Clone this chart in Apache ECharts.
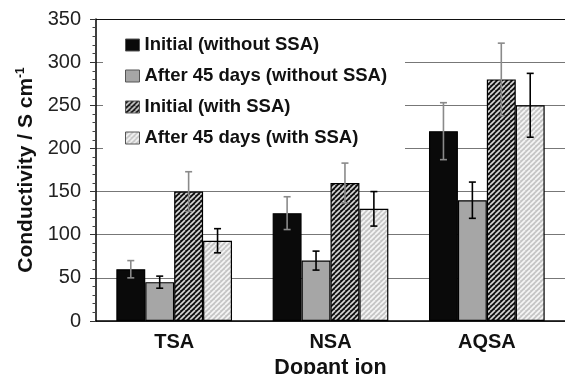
<!DOCTYPE html>
<html>
<head>
<meta charset="utf-8">
<script src="https://cdn.jsdelivr.net/npm/echarts@6/dist/echarts.min.js"></script>
<style>
html, body { margin: 0; padding: 0; background: #fff; }
#chart { width: 565px; height: 374px; }
</style>
</head>
<body>
<div id="chart"></div>
<script>
// Dopant ions on the x axis
const categories = ['TSA', 'NSA', 'AQSA'];
const seriesNames = [
  'Initial (without SSA)',
  'After 45 days (without SSA)',
  'Initial (with SSA)',
  'After 45 days (with SSA)'
];
// Conductivity (S cm^-1) per dopant
const initialNoSSA = [60, 125, 220];
const after45NoSSA = [45, 70, 140];
const initialSSA = [150, 160, 280];
const after45SSA = [93, 130, 250];
// Error bar half-widths
const errInitialNoSSA = [10, 19, 33];
const errAfter45NoSSA = [7, 11, 21];
const errInitialSSA = [23, 23, 42];
const errAfter45SSA = [14, 20, 37];
// Y axis ticks
const yMin = 0, yMax = 350, yStep = 50;

const FONT = '"Liberation Sans", Arial, sans-serif';

// Diagonal hatch fill
function hatch(bg, fg, lw) {
  const s = 5;
  const c = document.createElement('canvas');
  c.width = s; c.height = s;
  const ctx = c.getContext('2d');
  ctx.fillStyle = bg;
  ctx.fillRect(0, 0, s, s);
  ctx.strokeStyle = fg;
  ctx.lineWidth = lw;
  for (let k = -s; k <= s; k += s) {
    ctx.beginPath();
    ctx.moveTo(k, s);
    ctx.lineTo(k + s, 0);
    ctx.stroke();
  }
  return { image: c, repeat: 'repeat' };
}

const fills = [
  '#0a0a0a',
  '#a6a6a6',
  hatch('#111', '#d8d8d8', 1.6),
  hatch('#c6c6c6', '#f6f6f6', 1.6)
];
const values = [initialNoSSA, after45NoSSA, initialSSA, after45SSA];
const errors = [errInitialNoSSA, errAfter45NoSSA, errInitialSSA, errAfter45SSA];
const errColors = ['#8a8a8a', '#000', '#8a8a8a', '#000'];

const CAT_GAP = 0.26;

const barSeries = values.map((vals, i) => ({
  name: seriesNames[i],
  type: 'bar',
  data: vals,
  barGap: '0%',
  barCategoryGap: (CAT_GAP * 100) + '%',
  itemStyle: { color: fills[i], borderColor: '#000', borderWidth: 1.2 },
  z: 2
}));

const errSeries = values.map((vals, i) => ({
  name: 'err' + i,
  type: 'custom',
  z: 5,
  data: vals.map((v, j) => [j, v - errors[i][j], v + errors[i][j]]),
  renderItem: function (params, api) {
    const band = api.size([1, 0])[0];
    const bw = band * (1 - CAT_GAP) / 4;
    const cx = api.coord([api.value(0), 0])[0] + (i - 1.5) * bw;
    const lo = api.coord([api.value(0), api.value(1)])[1];
    const hi = api.coord([api.value(0), api.value(2)])[1];
    const cap = 3.5;
    const style = { stroke: errColors[i], lineWidth: 1.6 };
    return {
      type: 'group',
      children: [
        { type: 'line', shape: { x1: cx, y1: lo, x2: cx, y2: hi }, style: style },
        { type: 'line', shape: { x1: cx - cap, y1: hi, x2: cx + cap, y2: hi }, style: style },
        { type: 'line', shape: { x1: cx - cap, y1: lo, x2: cx + cap, y2: lo }, style: style }
      ]
    };
  }
}));

const chart = echarts.init(document.getElementById('chart'), null, { renderer: 'canvas' });
chart.setOption({
  animation: false,
  backgroundColor: '#fff',
  textStyle: { fontFamily: FONT },
  grid: { left: 96, right: 0, top: 19, bottom: 53, containLabel: false, outerBoundsMode: 'none' },
  graphic: [{
    type: 'rect',
    z: 1,
    shape: { x: 103, y: 21, width: 302, height: 134 },
    style: { fill: '#fff' }
  }],
  legend: {
    data: seriesNames,
    orient: 'vertical',
    left: 120,
    top: 30,
    itemWidth: 14,
    itemHeight: 12,
    itemGap: 11,
    icon: 'rect',
    itemStyle: { borderColor: '#555', borderWidth: 1 },
    textStyle: { fontFamily: FONT, fontSize: 18.5, fontWeight: 'bold', color: '#111', lineHeight: 20 },
    selectedMode: false
  },
  xAxis: {
    type: 'category',
    data: categories,
    name: 'Dopant ion',
    nameLocation: 'middle',
    nameGap: 29,
    nameTextStyle: { fontFamily: FONT, fontSize: 21.5, fontWeight: 'bold', color: '#111', lineHeight: 21.5 },
    axisLine: { lineStyle: { color: '#000', width: 1.5 } },
    axisTick: { show: false },
    axisLabel: { fontFamily: FONT, fontSize: 20, fontWeight: 'bold', color: '#111', margin: 11 }
  },
  yAxis: {
    type: 'value',
    min: yMin,
    max: yMax,
    interval: yStep,
    name: 'Conductivity / S cm{sup|-1}',
    nameLocation: 'middle',
    nameGap: 59,
    nameTextStyle: {
      fontFamily: FONT, fontSize: 21, fontWeight: 'bold', color: '#111',
      rich: { sup: { fontFamily: FONT, fontSize: 12, fontWeight: 'bold', color: '#111', verticalAlign: 'top', padding: [0, 0, 10, 0] } }
    },
    axisLine: { show: true, lineStyle: { color: '#000', width: 1.5 } },
    axisTick: { show: true, length: 6, lineStyle: { color: '#333', width: 1 } },
    minorTick: { show: true, splitNumber: 5, length: 3.5, lineStyle: { color: '#444', width: 1 } },
    axisLabel: { fontFamily: FONT, fontSize: 20, color: '#222', margin: 15 },
    splitLine: {
      show: true,
      lineStyle: { color: ['#666', '#777', '#777', '#777', '#777', '#777', '#777', '#111'], width: 1 }
    }
  },
  series: barSeries.concat(errSeries)
});
</script>
</body>
</html>
